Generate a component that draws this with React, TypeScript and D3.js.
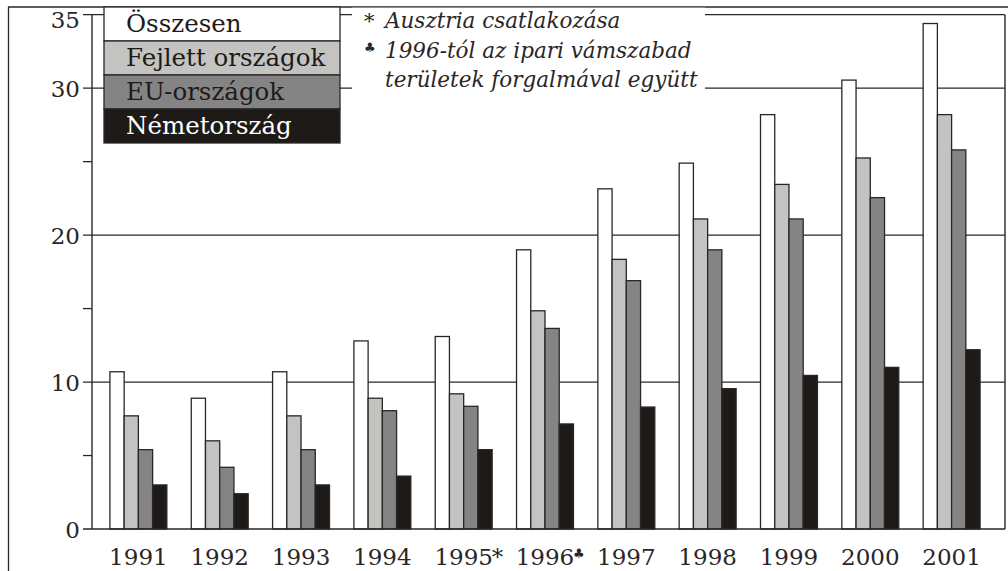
import React from 'react';
import * as d3 from 'd3';

// Years on the x axis, with the footnote marks that follow some of them
const years = ['1991', '1992', '1993', '1994', '1995', '1996', '1997', '1998', '1999', '2000', '2001'];
const yearMarks = ['', '', '', '', '*', '♣', '', '', '', '', ''];

// Series
const seriesNames = ['Összesen', 'Fejlett országok', 'EU-országok', 'Németország'];
const osszesen = [10.7, 8.9, 10.7, 12.8, 13.1, 19.0, 23.15, 24.9, 28.2, 30.55, 34.4];
const fejlett = [7.7, 6.0, 7.7, 8.9, 9.2, 14.85, 18.35, 21.1, 23.45, 25.25, 28.2];
const eu = [5.4, 4.2, 5.4, 8.05, 8.35, 13.65, 16.9, 19.0, 21.1, 22.55, 25.8];
const nemet = [3.0, 2.4, 3.0, 3.6, 5.4, 7.15, 8.3, 9.55, 10.45, 11.0, 12.2];
const seriesValues = [osszesen, fejlett, eu, nemet];
const seriesColors = ['#ffffff', '#c3c4c2', '#858485', '#1e1a17'];
const legendTextColors = ['#1e1a17', '#1e1a17', '#1e1a17', '#ffffff'];

// Axis ticks
const labelTicks = [0, 10, 20, 30, 35];
const gridTicks = [10, 20, 30, 35];
const minorTicks = [5, 15, 25];

// Footnotes
const noteMarks = ['*', '♣', ''];
const noteLines = ['Ausztria csatlakozása', '1996-tól az ipari vámszabad', 'területek forgalmával együtt'];

const W = 1008;
const H = 571;
const ink = '#2a2626';
const font = '"DejaVu Serif", "Liberation Serif", serif';

export default function App() {
  const axisX = 92;
  const rightX = 1005;

  const y = d3.scaleLinear().domain([0, 35]).range([529, 14.7]);
  const x = d3.scaleBand<string>()
    .domain(years)
    .range([90, 1000])
    .paddingInner(0.3)
    .paddingOuter(0.245);
  const xi = d3.scaleBand<string>()
    .domain(seriesNames)
    .range([0, x.bandwidth()]);

  // legend geometry
  const legX = 104;
  const legW = 236;
  const legRowH = 34;
  const legTop = 7;

  return (
    <svg
      width={W}
      height={H}
      style={{ position: 'absolute', left: 0, top: 0, background: '#fff' }}
      fontFamily={font}
    >
      {/* outer frame */}
      <line x1={8.5} y1={7} x2={8.5} y2={H} stroke={ink} strokeWidth={1.3} />
      <line x1={8} y1={7} x2={W} y2={7} stroke={ink} strokeWidth={1.3} />

      {/* grid lines */}
      {gridTicks.map(t => (
        <line key={'g' + t} x1={axisX - 9} x2={rightX} y1={y(t)} y2={y(t)} stroke={ink} strokeWidth={1.3} />
      ))}
      {minorTicks.map(t => (
        <line key={'m' + t} x1={axisX - 9} x2={axisX} y1={y(t)} y2={y(t)} stroke={ink} strokeWidth={1.3} />
      ))}

      {/* bars */}
      {years.map((yr, i) => (
        <g key={yr} transform={`translate(${x(yr)},0)`}>
          {seriesNames.map((s, k) => {
            const v = seriesValues[k][i];
            return (
              <rect
                key={s}
                x={xi(s)}
                y={y(v)}
                width={xi.bandwidth()}
                height={y(0) - y(v)}
                fill={seriesColors[k]}
                stroke={ink}
                strokeWidth={1.3}
              />
            );
          })}
        </g>
      ))}

      {/* axes */}
      <line x1={axisX} x2={axisX} y1={y(35)} y2={y(0)} stroke={ink} strokeWidth={1.4} />
      <line x1={rightX} x2={rightX} y1={y(35)} y2={y(0)} stroke={ink} strokeWidth={1.4} />
      <line x1={axisX - 9} x2={rightX} y1={y(0)} y2={y(0)} stroke={ink} strokeWidth={1.4} />

      {/* y labels */}
      {labelTicks.map(t => (
        <text
          key={'l' + t}
          x={80}
          y={y(t) + (t === 35 ? 13.5 : 8.5)}
          textAnchor="end"
          fontSize={23}
          fill={ink}
        >
          {t}
        </text>
      ))}

      {/* x labels */}
      {years.map((yr, i) => (
        <g key={'x' + yr}>
          <text x={(x(yr) || 0) + x.bandwidth() / 2} y={565} textAnchor="middle" fontSize={23} fill={ink}>
            {yr}
          </text>
          {yearMarks[i] && (
            <text
              x={(x(yr) || 0) + x.bandwidth() / 2 + 28}
              y={yearMarks[i] === '*' ? 565 : 558}
              fontSize={yearMarks[i] === '*' ? 23 : 13}
              fill={ink}
            >
              {yearMarks[i]}
            </text>
          )}
        </g>
      ))}

      {/* legend */}
      {seriesNames.map((s, k) => (
        <g key={'leg' + s}>
          <rect
            x={legX}
            y={legTop + k * legRowH}
            width={legW}
            height={legRowH}
            fill={seriesColors[k]}
            stroke={ink}
            strokeWidth={1.3}
          />
          <text x={legX + 22} y={legTop + k * legRowH + 25} fontSize={24.5} fill={legendTextColors[k]}>
            {s}
          </text>
        </g>
      ))}

      {/* footnote box */}
      <rect x={352} y={7.7} width={353} height={93} fill="#fff" />
      {noteLines.map((line, i) => (
        <g key={'n' + i}>
          {noteMarks[i] && (
            <text
              x={364}
              y={28 + i * 29.5}
              fontSize={noteMarks[i] === '*' ? 21 : 13}
              dy={noteMarks[i] === '*' ? 0 : -6}
              fontStyle="italic"
              fill={ink}
            >
              {noteMarks[i]}
            </text>
          )}
          <text x={385} y={28 + i * 29.5} fontSize={21.5} fontStyle="italic" fill={ink}>
            {line}
          </text>
        </g>
      ))}
    </svg>
  );
}
